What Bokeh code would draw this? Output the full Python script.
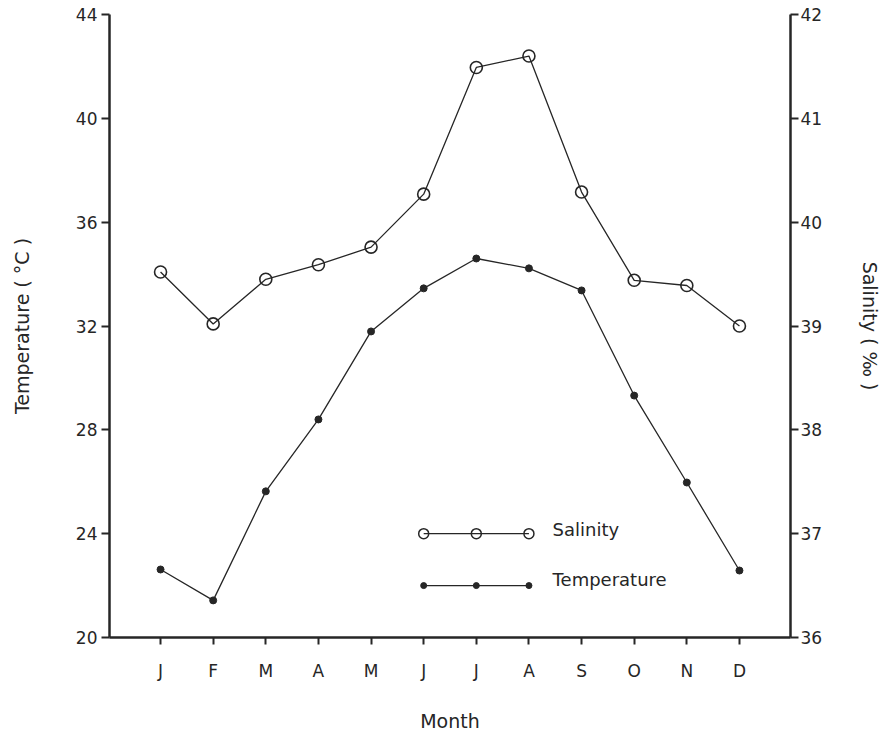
from bokeh.plotting import figure
from bokeh.models import Range1d, LinearAxis, FixedTicker
from bokeh.core.properties import value
from bokeh.embed import file_html
from bokeh.resources import INLINE

# ---- data ----
months = ["J", "F", "M", "A", "M", "J", "J", "A", "S", "O", "N", "D"]
month_index = list(range(1, 13))
salinity = [39.52, 39.02, 39.45, 39.59, 39.76, 40.27, 41.49, 41.60, 40.29, 39.44, 39.39, 39.00]
temperature = [22.62, 21.43, 25.63, 28.40, 31.79, 33.45, 34.60, 34.22, 33.37, 29.32, 25.97, 22.58]
temp_ticks = [20, 24, 28, 32, 36, 40, 44]
sal_ticks = [36, 37, 38, 39, 40, 41, 42]

INK = "#262626"
FONT = "DejaVu Sans"

p = figure(frame_width=681, frame_height=623, output_backend="svg", toolbar_location=None,
           x_range=Range1d(0.03, 12.97), y_range=Range1d(20, 44),
           min_border_left=109, min_border_right=95, min_border_top=14, min_border_bottom=97,
           background_fill_color="white", border_fill_color="white")
p.outline_line_color = None
p.xgrid.visible = False
p.ygrid.visible = False

p.extra_y_ranges = {"sal": Range1d(36, 42)}

# left axis
ly = p.yaxis[0]
ly.ticker = FixedTicker(ticks=temp_ticks)
ly.axis_label = "Temperature ( °C )"

# bottom axis
bx = p.xaxis[0]
bx.ticker = FixedTicker(ticks=month_index)
bx.major_label_overrides = {i: m for i, m in zip(month_index, months)}
bx.axis_label = "Month"

# right axis
ry = LinearAxis(y_range_name="sal", ticker=FixedTicker(ticks=sal_ticks),
                axis_label="Salinity ( ‰ )")
p.add_layout(ry, "right")

for ax in (ly, bx, ry):
    ax.axis_line_color = INK
    ax.axis_line_width = 2.5
    ax.major_tick_line_color = INK
    ax.major_tick_line_width = 2
    ax.major_tick_in = 0
    ax.minor_tick_line_color = None
    ax.major_label_text_font = FONT
    ax.major_label_text_font_size = "17px"
    ax.major_label_text_color = INK
    ax.axis_label_text_font = FONT
    ax.axis_label_text_font_size = "19px"
    ax.axis_label_text_font_style = "normal"
    ax.axis_label_text_color = INK

ly.major_tick_out = 8
ly.major_label_standoff = 4
ly.axis_label_standoff = 40
ry.major_tick_out = 8
ry.major_label_standoff = 2
ry.axis_label_standoff = 34
bx.major_tick_out = 7
bx.major_label_standoff = 16
bx.axis_label_standoff = 26

# salinity series
p.line(month_index, salinity, y_range_name="sal", line_color=INK, line_width=1.3)
p.scatter(month_index, salinity, y_range_name="sal", marker="circle", size=12,
          fill_color=None, line_color=INK, line_width=1.6)

# temperature series
p.line(month_index, temperature, line_color=INK, line_width=1.3)
p.scatter(month_index, temperature, marker="circle", size=7,
          fill_color=INK, line_color=INK)

# legend (drawn in the style of the original)
leg_x = [6, 7, 8]
p.line(leg_x, [24, 24, 24], line_color=INK, line_width=1.2)
p.scatter(leg_x, [24, 24, 24], marker="circle", size=10, fill_color=None,
          line_color=INK, line_width=1.5)
p.line(leg_x, [22, 22, 22], line_color=INK, line_width=1.2)
p.scatter(leg_x, [22, 22, 22], marker="circle", size=6, fill_color=INK, line_color=INK)
p.text(x=[8.45, 8.45], y=[24.15, 22.25], text=["Salinity", "Temperature"],
       text_font=value(FONT), text_font_size="18px", text_color=INK,
       text_baseline="middle", text_align="left")

open("out.html", "w").write(file_html(p, INLINE))
